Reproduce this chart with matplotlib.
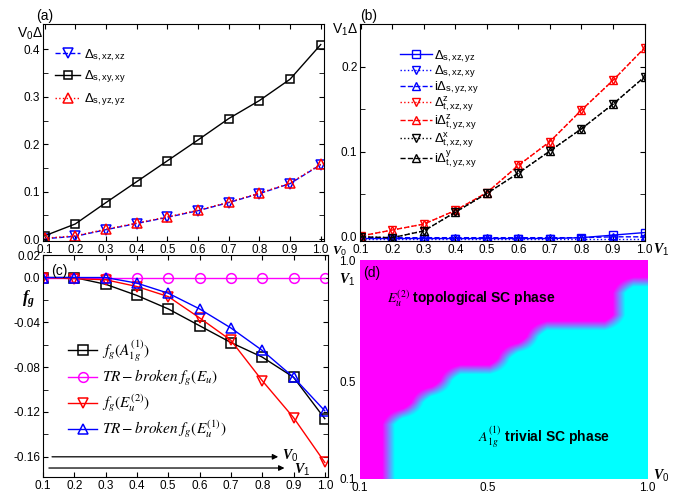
import numpy as np
import matplotlib.pyplot as plt
from matplotlib.colors import LinearSegmentedColormap

plt.rcParams['font.family'] = ['Liberation Sans', 'DejaVu Sans']
plt.rcParams['mathtext.fontset'] = 'custom'
plt.rcParams['mathtext.rm'] = 'Liberation Sans'
plt.rcParams['mathtext.it'] = 'Liberation Serif:italic:bold'
plt.rcParams['mathtext.bf'] = 'Liberation Sans:bold'
plt.rcParams['axes.unicode_minus'] = False

v = [0.1, 0.2, 0.3, 0.4, 0.5, 0.6, 0.7, 0.8, 0.9, 1.0]

# (a) pairing amplitudes vs V0
d_s_xzxz = [0.001, 0.006, 0.020, 0.033, 0.046, 0.060, 0.077, 0.096, 0.117, 0.157]
d_s_xyxy = [0.007, 0.032, 0.077, 0.121, 0.165, 0.209, 0.254, 0.292, 0.337, 0.410]
d_s_yzyz = [0.002, 0.007, 0.021, 0.034, 0.047, 0.061, 0.078, 0.097, 0.118, 0.158]

# (b) pairing amplitudes vs V1
d_s_xzyz = [-0.002, -0.002, -0.002, -0.002, -0.002, -0.002, -0.002, -0.001, 0.002, 0.005]
d_s_xzxy = [-0.002, -0.002, -0.002, -0.002, -0.002, -0.002, -0.002, -0.002, -0.002, -0.002]
id_s_yzxy = [-0.001, -0.001, -0.001, -0.001, -0.001, -0.001, -0.001, -0.001, 0.000, 0.000]
d_tz_xzxy = [0.001, 0.008, 0.015, 0.031, 0.052, 0.084, 0.112, 0.149, 0.184, 0.222]
id_tz_yzxy = [0.001, 0.008, 0.015, 0.031, 0.052, 0.084, 0.112, 0.149, 0.184, 0.222]
d_tx_xzxy = [0.000, -0.001, 0.007, 0.029, 0.051, 0.075, 0.101, 0.127, 0.156, 0.188]
id_ty_yzxy = [0.000, -0.001, 0.007, 0.029, 0.051, 0.075, 0.101, 0.127, 0.156, 0.188]

# (c) f_g
fg_a1g = [0.000, 0.000, -0.006, -0.016, -0.028, -0.043, -0.058, -0.071, -0.089, -0.126]
fg_eu_tr = [0.000, 0.000, 0.000, 0.000, 0.000, 0.000, 0.000, 0.000, 0.000, 0.000]
fg_eu2 = [0.000, -0.001, -0.002, -0.008, -0.017, -0.036, -0.056, -0.092, -0.125, -0.165]
fg_eu1_tr = [0.000, 0.000, 0.000, -0.005, -0.014, -0.028, -0.045, -0.065, -0.089, -0.119]

# (d) phase map, rows V1 = 0.1 .. 1.0, columns V0 = 0.1 .. 1.0
# 0 = E_u^(2) topological, 1 = A_1g^(1) trivial
phase = [
    [0, 1, 1, 1, 1, 1, 1, 1, 1, 1],
    [0, 1, 1, 1, 1, 1, 1, 1, 1, 1],
    [0, 1, 1, 1, 1, 1, 1, 1, 1, 1],
    [0, 0, 1, 1, 1, 1, 1, 1, 1, 1],
    [0, 0, 0, 1, 1, 1, 1, 1, 1, 1],
    [0, 0, 0, 0, 0, 1, 1, 1, 1, 1],
    [0, 0, 0, 0, 0, 0, 1, 1, 1, 1],
    [0, 0, 0, 0, 0, 0, 0, 0, 0, 1],
    [0, 0, 0, 0, 0, 0, 0, 0, 0, 1],
    [0, 0, 0, 0, 0, 0, 0, 0, 0, 0],
]

fig = plt.figure(figsize=(6.9, 4.93), dpi=100)
ax_a = fig.add_axes([0.0623, 0.511, 0.407, 0.440])
ax_b = fig.add_axes([0.522, 0.511, 0.413, 0.440])
ax_c = fig.add_axes([0.0623, 0.0325, 0.413, 0.450])
ax_d = fig.add_axes([0.522, 0.0284, 0.416, 0.444])

def style_axis(ax):
    ax.tick_params(which='both', direction='in', top=True, right=True, labelsize=8.5, pad=2)
    ax.tick_params(which='both', length=3.5)
    ax.set_xticks(v)
    ax.set_xticklabels([f"{x:.1f}" for x in v])

bold_it = dict(fontsize=10)

# ---- (a)
ax = ax_a
ax.plot(v, d_s_xzxz, '--', color='blue', marker='v', ms=7, mfc='none', mew=1.1, lw=1,
        label=r"Δ$_\mathrm{s,xz,xz}$")
ax.plot(v, d_s_xyxy, '-', color='black', marker='s', ms=6, mfc='none', mew=1.1, lw=1,
        label=r"Δ$_\mathrm{s,xy,xy}$")
ax.plot(v, d_s_yzyz, ':', color='red', marker='^', ms=7, mfc='none', mew=1.1, lw=1,
        label=r"Δ$_\mathrm{s,yz,yz}$")
ax.set_xlim(0.095, 1.01)
ax.set_ylim(-0.004, 0.453)
style_axis(ax)
ax.set_yticks([0.0, 0.1, 0.2, 0.3, 0.4])
ax.set_yticks([0.05, 0.15, 0.25, 0.35], minor=True)
ax.legend(loc='upper left', bbox_to_anchor=(0.043, 0.895), frameon=False, fontsize=9.5,
          handlelength=1.9, handletextpad=0.3, labelspacing=0.45, borderpad=0, borderaxespad=0)
ax.text(-0.025, 1.037, "(a)", transform=ax.transAxes, fontsize=10, ha='left', va='center')
ax.text(-0.045, 0.955, r"V$_\mathrm{0}$Δ", transform=ax.transAxes, fontsize=10, ha='center', va='center')
ax.text(1.055, -0.045, r"$V_\mathit{0}$", transform=ax.transAxes, ha='center', va='center', fontsize=9)

# ---- (b)
ax = ax_b
ax.plot(v, d_s_xzyz, '-', color='blue', marker='s', ms=5.5, mfc='none', mew=1, lw=1,
        label=r"Δ$_\mathrm{s,xz,yz}$")
ax.plot(v, d_s_xzxy, ':', color='blue', marker='v', ms=6, mfc='none', mew=1, lw=1,
        label=r"Δ$_\mathrm{s,xz,xy}$")
ax.plot(v, id_s_yzxy, '--', color='blue', marker='^', ms=6, mfc='none', mew=1, lw=1,
        label=r"iΔ$_\mathrm{s,yz,xy}$")
ax.plot(v, d_tz_xzxy, ':', color='red', marker='v', ms=6, mfc='none', mew=1, lw=1,
        label=r"Δ$^\mathrm{z}_\mathrm{t,xz,xy}$")
ax.plot(v, id_tz_yzxy, '--', color='red', marker='^', ms=6, mfc='none', mew=1, lw=1,
        label=r"iΔ$^\mathrm{z}_\mathrm{t,yz,xy}$")
ax.plot(v, d_tx_xzxy, ':', color='black', marker='v', ms=6, mfc='none', mew=1, lw=1,
        label=r"Δ$^\mathrm{x}_\mathrm{t,xz,xy}$")
ax.plot(v, id_ty_yzxy, '--', color='black', marker='^', ms=6, mfc='none', mew=1, lw=1,
        label=r"iΔ$^\mathrm{y}_\mathrm{t,yz,xy}$")
ax.set_xlim(0.098, 1.002)
ax.set_ylim(-0.005, 0.25)
style_axis(ax)
ax.set_yticks([0.0, 0.1, 0.2])
ax.set_yticks([0.05, 0.15], minor=True)
ax.legend(loc='upper left', bbox_to_anchor=(0.14, 0.89), frameon=False, fontsize=9.5,
          handlelength=2.4, handletextpad=0.2, labelspacing=-0.08, borderpad=0, borderaxespad=0)
ax.text(0.0, 1.037, "(b)", transform=ax.transAxes, fontsize=10, ha='left', va='center')
ax.text(-0.053, 0.972, r"V$_\mathrm{1}$Δ", transform=ax.transAxes, fontsize=10, ha='center', va='center')
ax.text(1.055, -0.04, r"$V_\mathit{1}$", transform=ax.transAxes, ha='center', va='center', **bold_it)

# ---- (c)
ax = ax_c
ax.plot(v, fg_a1g, '-', color='black', marker='s', ms=6.5, mfc='none', mew=1.1, lw=1,
        label=r"$f_g(A_{1g}^{(1)})$")
ax.plot(v, fg_eu_tr, '-', color='#ff00ff', marker='o', ms=7, mfc='none', mew=1.1, lw=1,
        label=r"$TR-broken\ f_g(E_u)$")
ax.plot(v, fg_eu2, '-', color='red', marker='v', ms=7.5, mfc='none', mew=1.1, lw=1,
        label=r"$f_g(E_u^{(2)})$")
ax.plot(v, fg_eu1_tr, '-', color='blue', marker='^', ms=7.5, mfc='none', mew=1.1, lw=1,
        label=r"$TR-broken\ f_g(E_u^{(1)})$")
ax.set_xlim(0.1, 1.01)
ax.set_ylim(-0.178, 0.02)
style_axis(ax)
ax.set_yticks([0.02, 0.0, -0.04, -0.08, -0.12, -0.16])
ax.set_yticklabels(["0.02", "0.0", "-0.04", "-0.08", "-0.12", "-0.16"])
ax.set_yticks([-0.02, -0.06, -0.10, -0.14], minor=True)
ax.legend(loc='upper left', bbox_to_anchor=(0.088, 0.625), frameon=False,
          prop=dict(size=11, math_fontfamily='stix'),
          handlelength=1.9, handletextpad=0.3, labelspacing=0.3, borderpad=0, borderaxespad=0)
ax.annotate("", xy=(0.86, -0.160), xytext=(0.12, -0.160),
            arrowprops=dict(arrowstyle='-|>', color='black', lw=0.9, mutation_scale=8))
ax.annotate("", xy=(0.88, -0.170), xytext=(0.11, -0.170),
            arrowprops=dict(arrowstyle='-|>', color='black', lw=0.9, mutation_scale=8))
ax.text(0.862, -0.159, r"$V_\mathit{0}$", ha='left', va='center', **bold_it)
ax.text(0.903, -0.172, r"$V_\mathit{1}$", ha='left', va='center', **bold_it)
ax.text(0.03, 0.93, "(c)", transform=ax.transAxes, fontsize=10, ha='left', va='center')
ax.text(-0.05, 0.80, r"$f_g$", transform=ax.transAxes, fontsize=12, ha='center', va='center')

# ---- (d)
ax = ax_d
cmap = LinearSegmentedColormap.from_list(
    'phase', [(0.0, '#ff00ff'), (0.28, '#ff00ff'), (0.72, '#00ffff'), (1.0, '#00ffff')])
ax.imshow(np.array(phase), origin='lower', extent=(0.1, 1.0, 0.1, 1.0), aspect='auto',
          cmap=cmap, vmin=0, vmax=1, interpolation='bilinear', interpolation_stage='data')
ax.set_xlim(0.1, 1.0)
ax.set_ylim(0.1, 1.0)
for s in ax.spines.values():
    s.set_visible(False)
ax.tick_params(length=0, labelsize=8.5, pad=2)
ax.tick_params(axis='y', pad=3)
ax.set_xticks([0.1, 0.5, 1.0])
ax.set_xticklabels(["0.1", "0.5", "1.0"])
ax.set_yticks([0.1, 0.5, 1.0])
ax.set_yticklabels(["0.1", "0.5", "1.0"])
ax.text(0.01, 0.94, "(d)", transform=ax.transAxes, fontsize=10, ha='left', va='center')
ax.text(-0.045, 0.91, r"$V_\mathit{1}$", transform=ax.transAxes, ha='center', va='center', **bold_it)
ax.text(1.05, 0.015, r"$V_\mathit{0}$", transform=ax.transAxes, ha='center', va='center', **bold_it)
ax.text(0.185, 0.84, r"$E_u^{(2)}$" + " topological SC phase", fontsize=10, fontweight='bold',
        math_fontfamily='stix', ha='left', va='center')
ax.text(0.47, 0.27, r"$A_{1g}^{(1)}$" + " trivial SC phase", fontsize=10, fontweight='bold',
        math_fontfamily='stix', ha='left', va='center')

fig.savefig("out.png", dpi=100)
